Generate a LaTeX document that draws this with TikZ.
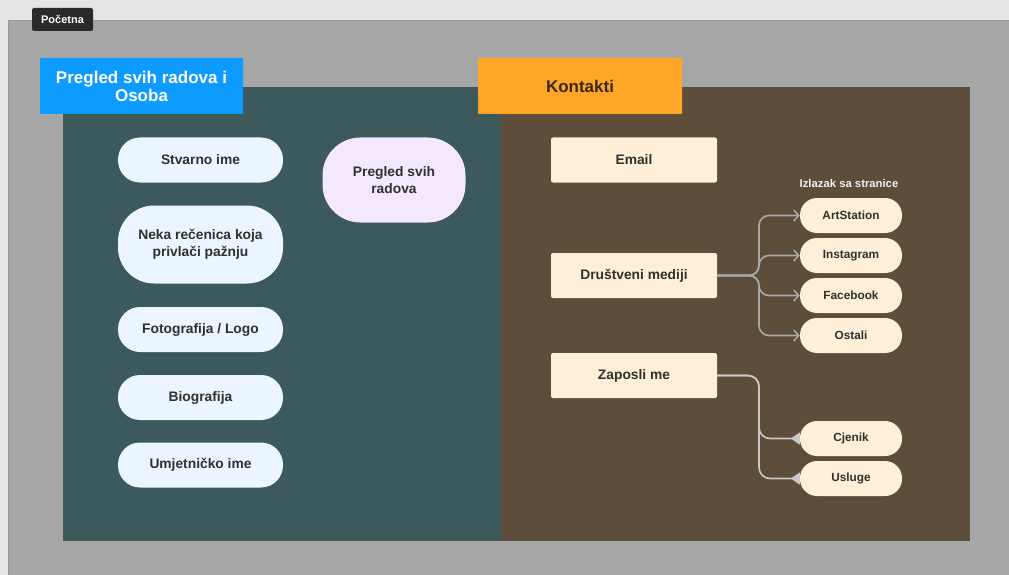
\documentclass[tikz,border=0pt]{standalone}
\usepackage{fontspec}
\setmainfont{Liberation Sans}
\usetikzlibrary{arrows.meta}
\definecolor{bgtop}{HTML}{E5E5E5}
\definecolor{canvas}{HTML}{A6A6A6}
\definecolor{canvasline}{HTML}{979797}
\definecolor{teal}{HTML}{3C5A5B}
\definecolor{brownp}{HTML}{5C4E3B}
\definecolor{bluelab}{HTML}{0D9BFF}
\definecolor{orangelab}{HTML}{FFA629}
\definecolor{lightblue}{HTML}{EAF5FF}
\definecolor{lavender}{HTML}{F3E8FD}
\definecolor{peach}{HTML}{FFEFD9}
\definecolor{txt}{HTML}{303030}
\definecolor{tagdark}{HTML}{2A2A2A}
\definecolor{conn}{HTML}{A8A8A8}
\definecolor{connlight}{HTML}{C8C8C8}
\definecolor{kontxt}{HTML}{3A2A0E}
\tikzset{
  box/.style={draw=none, inner sep=0pt, align=center, font=\bfseries\fontsize{13.8}{17}\selectfont, text=txt},
  pillL/.style={box, fill=lightblue, rounded corners=22pt, minimum width=165pt, minimum height=45pt},
  rectR/.style={box, fill=peach, rounded corners=2pt, minimum width=166pt, minimum height=45pt},
  pillS/.style={box, fill=peach, rounded corners=17pt, minimum width=102pt, minimum height=35pt, font=\bfseries\fontsize{11.8}{14}\selectfont},
  label/.style={inner sep=0pt, align=center, font=\bfseries\fontsize{17}{18}\selectfont},
  sconn/.style={draw=conn, line width=1.6pt, rounded corners=10pt, -{Straight Barb[length=5pt,width=11pt]}},
  zconn/.style={draw=connlight, line width=1.6pt, rounded corners=11pt, -{Triangle[reversed,length=9pt,width=12pt]}}
}
\begin{document}
\begin{tikzpicture}[x=1pt,y=-1pt]
\useasboundingbox (0,0) rectangle (1009,575);
\fill[bgtop] (0,0) rectangle (1009,575);
\fill[canvas] (8,20) rectangle (1009,575);
\draw[canvasline, line width=0.8pt] (8,575) -- (8,20) -- (1009,20);
% panels
\fill[teal] (63,87) rectangle (501,541);
\fill[brownp] (501,87) rectangle (970,541);
% tag
\node[fill=tagdark, rounded corners=2pt, minimum width=61pt, minimum height=23pt, inner sep=0pt, text=white, font=\bfseries\fontsize{11}{13}\selectfont] (tag) at (62.5,19.5) {Početna};
% labels
\node[label, fill=bluelab, text=white, rounded corners=1pt, minimum width=203pt, minimum height=56pt] (lab1) at (141.5,86) {Pregled svih radova i\\Osoba};
\node[label, fill=orangelab, text=kontxt, rounded corners=1pt, minimum width=204pt, minimum height=56pt] (lab2) at (580,86) {Kontakti};
% left nodes
\node[pillL] (stv) at (200.5,160) {Stvarno ime};
\node[pillL, minimum height=78pt, rounded corners=36pt] (neka) at (200.5,244.5) {Neka rečenica koja\\privlači pažnju};
\node[pillL] (foto) at (200.5,329.5) {Fotografija / Logo};
\node[pillL] (bio) at (200.5,397.5) {Biografija};
\node[pillL] (umj) at (200.5,465) {Umjetničko ime};
\node[box, fill=lavender, rounded corners=38pt, minimum width=143pt, minimum height=85pt] (preg) at (394,180) {Pregled svih\\radova};
% right nodes
\node[rectR] (email) at (634,160) {Email};
\node[rectR] (drus) at (634,275.5) {Društveni mediji};
\node[rectR] (zap) at (634,375.5) {Zaposli me};
\node[inner sep=0pt, text=white!94!black, font=\bfseries\fontsize{11.3}{13}\selectfont] (izl) at (849,183) {Izlazak sa stranice};
\node[pillS] (art) at (851,215.5) {ArtStation};
\node[pillS] (ins) at (851,255.5) {Instagram};
\node[pillS] (fac) at (851,295.5) {Facebook};
\node[pillS] (ost) at (851,335.5) {Ostali};
\node[pillS] (cje) at (851,438.5) {Cjenik};
\node[pillS] (usl) at (851,478.5) {Usluge};
% connectors
\coordinate (fork) at (759,275.5);
\draw[sconn] (drus.east) -- (fork) -- (fork |- art.west) -- (art.west);
\draw[sconn] (drus.east) -- (fork) -- (fork |- ins.west) -- (ins.west);
\draw[sconn] (drus.east) -- (fork) -- (fork |- fac.west) -- (fac.west);
\draw[sconn] (drus.east) -- (fork) -- (fork |- ost.west) -- (ost.west);
\coordinate (zfork) at (759,375.5);
\draw[zconn] (zap.east) -- (zfork) -- (zfork |- cje.west) -- (cje.west);
\draw[zconn] (zap.east) -- (zfork) -- (zfork |- usl.west) -- (usl.west);
\end{tikzpicture}
\end{document}
